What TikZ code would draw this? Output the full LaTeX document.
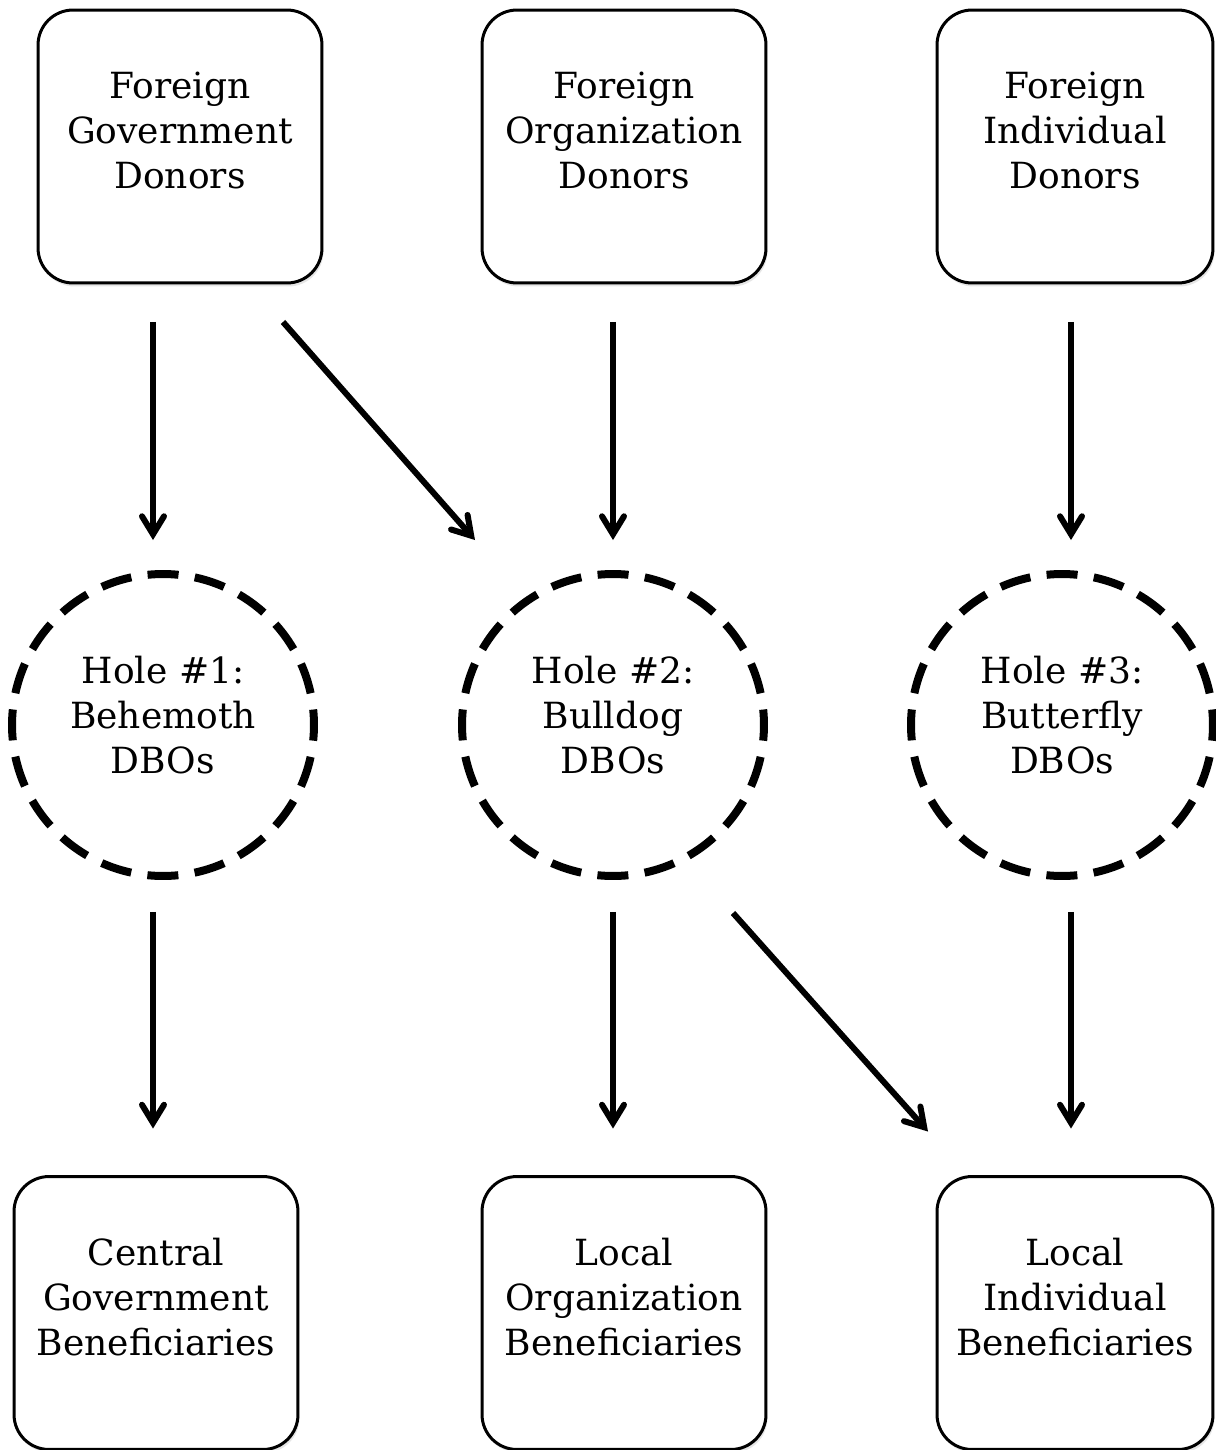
\documentclass[tikz,border=0pt]{standalone}
\usepackage{fontspec}
\setmainfont{DejaVu Serif}
\usetikzlibrary{calc,arrows.meta,shadows}
\tikzset{
  donor/.style={draw, line width=0.06cm, rounded corners=0.7cm, fill=white,
    minimum width=5.68cm, minimum height=5.46cm, inner sep=0pt, outer sep=0pt,
    align=center, font=\fontsize{20.5}{25.6}\selectfont,
    drop shadow={opacity=0.2, shadow xshift=0.03cm, shadow yshift=-0.07cm}},
  hole/.style={circle, draw, line width=0.16cm, minimum size=6.04cm,
    inner sep=0pt, outer sep=0pt, align=center,
    dash pattern=on 0.62cm off 0.3287cm, dash phase=0.31cm,
    font=\fontsize{20.5}{25.6}\selectfont},
  flow/.style={line width=0.12cm,
    -{Straight Barb[length=0.36cm, width=0.44cm, line cap=round]}}
}
% box or hole with its text lifted a little
\newcommand{\lines}[2]{\raisebox{#1}[0pt][0pt]{\begin{tabular}{@{}c@{}}#2\end{tabular}}}
\newcommand{\dbox}[5]{
\node[donor] (#1) at (#2,#3) {\lines{#5}{#4}};
}
\newcommand{\dhole}[4]{
\node[hole] (#1) at (#2,#3) {\lines{-0.08cm}{#4}};
}

\begin{document}
\begin{tikzpicture}[x=0.02cm,y=-0.02cm]
\useasboundingbox (0,0) rectangle (1215,1450);

% donors
\dbox{gd}{180}{146.5}{Foreign\\Government\\Donors}{0.06cm}
\dbox{od}{624}{146.5}{Foreign\\Organization\\Donors}{0.06cm}
\node[donor, minimum width=5.52cm] (id) at (1075,146.5) {\lines{0.06cm}{Foreign\\Individual\\Donors}};

% holes
\dhole{h1}{163}{725}{Hole \#1:\\Behemoth\\DBOs}
\dhole{h2}{613}{725}{Hole \#2:\\Bulldog\\DBOs}
\dhole{h3}{1062}{725}{Hole \#3:\\Butterfly\\DBOs}

% beneficiaries
\dbox{gb}{156}{1313}{Central\\Government\\Beneficiaries}{0.04cm}
\dbox{ob}{624}{1313}{Local\\Organization\\Beneficiaries}{0.04cm}
\node[donor, minimum width=5.52cm] (ib) at (1075,1313) {\lines{0.04cm}{Local\\Individual\\Beneficiaries}};

% donors to holes
\draw[flow] ($(gd.south)+(-27,39)$) -- ($(h1.north)+(-10,-34)$);
\draw[flow] ($(gd.south)+(103,39)$) -- ($(h2.north)+(-138,-34)$);
\draw[flow] ($(od.south)+(-11,39)$) -- ($(h2.north)+(0,-34)$);
\draw[flow] ($(id.south)+(-4,39)$) -- ($(h3.north)+(9,-34)$);

% holes to beneficiaries
\draw[flow] ($(h1.south)+(-10,36)$) -- ($(gb.north)+(-3,-48)$);
\draw[flow] ($(h2.south)+(0,36)$) -- ($(ob.north)+(-11,-48)$);
\draw[flow] ($(h2.south)+(120,37)$) -- ($(ib.north)+(-147,-45)$);
\draw[flow] ($(h3.south)+(9,36)$) -- ($(ib.north)+(-4,-48)$);
\end{tikzpicture}
\end{document}
